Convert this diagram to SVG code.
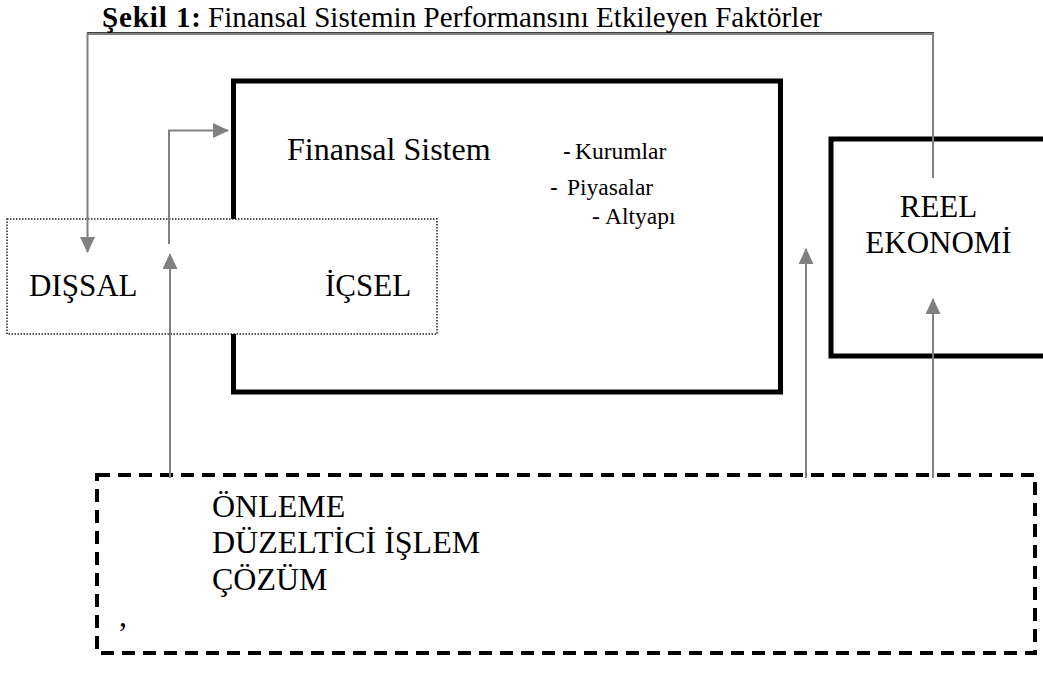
<svg xmlns="http://www.w3.org/2000/svg" width="1043" height="684" viewBox="0 0 1043 684">
<style>
.t{font-family:"Liberation Serif","Times New Roman",serif;fill:#000}
.s{font-family:"Liberation Sans",Arial,sans-serif}
.box{fill:#fff;stroke:#000;stroke-width:5}
.conn{fill:none;stroke:#808080;stroke-width:2}
</style>
<defs>
<marker id="ah" markerUnits="userSpaceOnUse" markerWidth="16" markerHeight="16" refX="15" refY="7.5" orient="auto">
<path d="M0,0 L16,7.5 L0,15 z" fill="#808080"/>
</marker>
</defs>
<rect width="1043" height="684" fill="#fff"/>
<g id="title">
<text class="t" x="102" y="27" font-size="29"><tspan font-weight="bold" textLength="99">Şekil 1:</tspan><tspan x="208" textLength="614">Finansal Sistemin Performansını Etkileyen Faktörler</tspan></text>
<line x1="87" y1="33" x2="934" y2="33" stroke="#000" stroke-width="1.5"/>
</g>
<g id="finansal-sistem">
<rect class="box" x="233.5" y="81" width="547" height="311"/>
<text class="t" x="287" y="160" font-size="32">Finansal Sistem</text>
<text class="t" y="159" font-size="23.5"><tspan class="s" x="563">-</tspan><tspan x="575">Kurumlar</tspan></text>
<text class="t" y="195" font-size="23.5"><tspan class="s" x="550">-</tspan><tspan x="567">Piyasalar</tspan></text>
<text class="t" y="224" font-size="23.5"><tspan x="592">-</tspan><tspan x="605">Altyapı</tspan></text>
</g>
<g id="dis-ic">
<rect x="7" y="219" width="430" height="115" fill="#fff" stroke="#222" stroke-width="1.5" stroke-dasharray="1.5 1.5"/>
<text class="t" x="29" y="296" font-size="31">DIŞSAL</text>
<text class="t" x="325" y="296" font-size="31">İÇSEL</text>
</g>
<g id="reel-ekonomi">
<rect class="box" x="831" y="139" width="230" height="217"/>
<text class="t" x="938.5" y="217" font-size="31" text-anchor="middle">REEL</text>
<text class="t" x="938.5" y="253" font-size="31" text-anchor="middle">EKONOMİ</text>
</g>
<g id="onleme">
<rect x="97" y="475" width="938" height="178" fill="none" stroke="#000" stroke-width="4" stroke-dasharray="13 8"/>
<text class="t" x="212" y="517" font-size="32">ÖNLEME</text>
<text class="t" x="212" y="553" font-size="32">DÜZELTİCİ İŞLEM</text>
<text class="t" x="212" y="590" font-size="32">ÇÖZÜM</text>
<text class="t" x="119" y="626" font-size="32">,</text>
</g>
<g id="connectors">
<path class="conn" d="M933,178 V34 H87.5 V252" marker-end="url(#ah)"/>
<path class="conn" d="M169,244 V130.5 H228" marker-end="url(#ah)"/>
<path class="conn" d="M170,478 V254" marker-end="url(#ah)"/>
<path class="conn" d="M806,478 V249" marker-end="url(#ah)"/>
<path class="conn" d="M933,478 V299" marker-end="url(#ah)"/>
</g>
</svg>
